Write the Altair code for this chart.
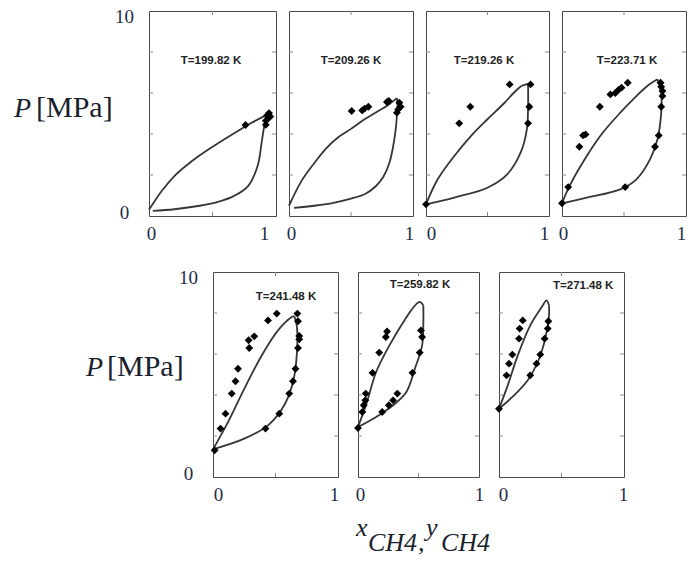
import altair as alt
import pandas as pd

# ---------------------------------------------------------------------------
# P-x-y phase envelopes of CH4 binary at seven temperatures
# bubble branch (x_CH4) / dew branch (y_CH4) of the model, P in MPa,
# plus experimental points.
# ---------------------------------------------------------------------------
T_LABELS = ["T=199.82 K", "T=209.26 K", "T=219.26 K", "T=223.71 K",
            "T=241.48 K", "T=259.82 K", "T=271.48 K"]

X_TICKS = [0, 1]
P_TICKS = [0, 10]
P_MINOR = [2, 4, 6, 8]
X_MINOR = [0.5]

# T = 199.82 K
BUB1_X = [0.0, 0.1, 0.2, 0.3, 0.4, 0.5, 0.6, 0.7, 0.8, 0.9, 0.95]
BUB1_P = [0.30, 1.22, 1.95, 2.49, 2.96, 3.38, 3.77, 4.15, 4.52, 4.85, 5.00]
DEW1_X = [0.03, 0.2, 0.4, 0.55, 0.67, 0.78, 0.855, 0.887, 0.908, 0.93, 0.95]
DEW1_P = [0.25, 0.33, 0.50, 0.70, 0.98, 1.46, 2.44, 3.58, 4.39, 4.85, 5.00]
EXP1_X = [0.76, 0.92, 0.92, 0.93, 0.945, 0.955, 0.94]
EXP1_P = [4.44, 4.45, 4.65, 4.90, 5.02, 4.85, 4.78]

# T = 209.26 K
BUB2_X = [0.0, 0.1, 0.2, 0.3, 0.4, 0.5, 0.6, 0.7, 0.8, 0.87]
BUB2_P = [0.50, 1.70, 2.55, 3.30, 3.85, 4.25, 4.68, 5.05, 5.42, 5.75]
DEW2_X = [0.04, 0.2, 0.34, 0.5, 0.61, 0.7, 0.76, 0.81, 0.84, 0.86, 0.87, 0.875, 0.87]
DEW2_P = [0.40, 0.50, 0.62, 0.85, 1.06, 1.45, 1.90, 2.60, 3.40, 4.20, 4.90, 5.40, 5.75]
EXP2_X = [0.505, 0.59, 0.61, 0.64, 0.79, 0.805, 0.89, 0.88, 0.87, 0.90]
EXP2_P = [5.12, 5.15, 5.24, 5.33, 5.56, 5.61, 5.53, 5.20, 5.04, 5.33]

# T = 219.26 K
BUB3_X = [0.0, 0.095, 0.23, 0.365, 0.5, 0.635, 0.72, 0.78, 0.83]
BUB3_P = [0.57, 1.79, 2.93, 3.90, 4.72, 5.50, 6.05, 6.35, 6.45]
DEW3_X = [0.0, 0.23, 0.5, 0.66, 0.77, 0.82, 0.83, 0.83]
DEW3_P = [0.57, 0.90, 1.38, 2.03, 3.10, 4.23, 5.37, 6.45]
EXP3_X = [0.0, 0.27, 0.36, 0.68, 0.85, 0.84, 0.83]
EXP3_P = [0.57, 4.52, 5.33, 6.42, 6.42, 5.33, 4.52]

# T = 223.71 K
BUB4_X = [0.0, 0.06, 0.2, 0.33, 0.47, 0.6, 0.7, 0.77]
BUB4_P = [0.62, 1.46, 2.93, 4.07, 5.04, 5.85, 6.40, 6.67]
DEW4_X = [0.0, 0.2, 0.47, 0.6, 0.71, 0.77, 0.80, 0.80, 0.77]
DEW4_P = [0.62, 0.90, 1.30, 1.79, 2.76, 3.74, 5.04, 6.00, 6.67]
EXP4_X = [0.0, 0.05, 0.14, 0.17, 0.19, 0.305, 0.39, 0.43, 0.455, 0.48, 0.53,
          0.51, 0.75, 0.78, 0.80, 0.81, 0.81, 0.80, 0.795]
EXP4_P = [0.62, 1.41, 3.38, 3.93, 3.98, 5.33, 5.93, 6.00, 6.15, 6.26, 6.50,
          1.41, 3.38, 3.93, 5.33, 5.85, 6.10, 6.30, 6.50]

# T = 241.48 K
BUB5_X = [0.0, 0.12, 0.25, 0.39, 0.52, 0.63, 0.65]
BUB5_P = [1.35, 2.68, 4.30, 5.93, 7.15, 7.80, 7.85]
DEW5_X = [0.0, 0.25, 0.44, 0.57, 0.64, 0.67, 0.67, 0.65]
DEW5_P = [1.35, 1.87, 2.52, 3.50, 4.63, 5.93, 7.40, 7.85]
EXP5_X = [0.013, 0.06, 0.10, 0.15, 0.18, 0.20, 0.29, 0.285, 0.33, 0.44, 0.51,
          0.675, 0.68, 0.69, 0.69, 0.68, 0.66, 0.64, 0.61, 0.53, 0.42]
EXP5_P = [1.30, 2.36, 3.09, 4.07, 4.67, 5.28, 6.29, 6.67, 6.86, 7.64, 7.97,
          7.97, 7.60, 6.88, 6.72, 6.29, 5.28, 4.67, 4.07, 3.09, 2.36]

# T = 259.82 K
BUB6_X = [0.0, 0.07, 0.15, 0.26, 0.375, 0.46, 0.51, 0.54]
BUB6_P = [2.44, 3.58, 5.12, 6.42, 7.56, 8.29, 8.54, 8.37]
DEW6_X = [0.0, 0.15, 0.29, 0.40, 0.47, 0.53, 0.54, 0.54]
DEW6_P = [2.44, 2.93, 3.50, 4.15, 5.28, 6.42, 7.56, 8.37]
EXP6_X = [0.0, 0.036, 0.047, 0.06, 0.064, 0.12, 0.175, 0.23, 0.24,
          0.20, 0.255, 0.29, 0.325, 0.45, 0.51, 0.53, 0.52]
EXP6_P = [2.39, 3.17, 3.50, 3.74, 4.07, 5.08, 6.07, 6.83, 7.10,
          3.17, 3.50, 3.74, 4.07, 5.08, 6.07, 6.83, 7.15]

# T = 271.48 K
BUB7_X = [0.0, 0.07, 0.15, 0.25, 0.35, 0.38, 0.40]
BUB7_P = [3.33, 4.47, 5.93, 7.40, 8.37, 8.62, 8.37]
DEW7_X = [0.0, 0.12, 0.23, 0.31, 0.37, 0.40, 0.40]
DEW7_P = [3.33, 3.98, 4.72, 5.61, 6.75, 7.89, 8.37]
EXP7_X = [0.0, 0.06, 0.08, 0.107, 0.16, 0.165, 0.19,
          0.25, 0.30, 0.33, 0.365, 0.39, 0.395]
EXP7_P = [3.33, 4.96, 5.53, 5.97, 6.75, 7.24, 7.64,
          4.96, 5.53, 5.97, 6.75, 7.24, 7.60]

PANELS = [
    (BUB1_X, BUB1_P, DEW1_X, DEW1_P, EXP1_X, EXP1_P),
    (BUB2_X, BUB2_P, DEW2_X, DEW2_P, EXP2_X, EXP2_P),
    (BUB3_X, BUB3_P, DEW3_X, DEW3_P, EXP3_X, EXP3_P),
    (BUB4_X, BUB4_P, DEW4_X, DEW4_P, EXP4_X, EXP4_P),
    (BUB5_X, BUB5_P, DEW5_X, DEW5_P, EXP5_X, EXP5_P),
    (BUB6_X, BUB6_P, DEW6_X, DEW6_P, EXP6_X, EXP6_P),
    (BUB7_X, BUB7_P, DEW7_X, DEW7_P, EXP7_X, EXP7_P),
]

# ---------------------------------------------------------------------------
# styling / layout
# ---------------------------------------------------------------------------
SERIF = "Liberation Serif"
SANS = "Liberation Sans"
NUM_COLOR = "#1f2c46"
LINE_COLOR = "#363636"
FRAME_COLOR = "#4a4a4a"
PANEL_H = 205

# per panel: width, first-in-row, x-label offsets (for 0, 1),
# temperature tag position (px) and alignment
LAYOUT = [
    dict(w=127, first=True, off=(2, -12), tx=62, ty=50, ta="center"),
    dict(w=124, first=False, off=(2, -4), tx=62, ty=50, ta="center"),
    dict(w=123, first=False, off=(5, -5), tx=58, ty=50, ta="center"),
    dict(w=124, first=False, off=(1, -5), tx=65, ty=50, ta="center"),
    dict(w=125, first=True, off=(5, -4), tx=73, ty=25, ta="center"),
    dict(w=121, first=False, off=(2, 0), tx=62, ty=13, ta="center"),
    dict(w=125, first=False, off=(4, -1), tx=54, ty=14, ta="left"),
]


def panel(i):
    bx, bp, dx, dp, ex, ep = PANELS[i]
    lay = LAYOUT[i]
    w = lay["w"]
    o0, o1 = lay["off"]

    curves = pd.DataFrame({
        "x": bx + dx,
        "P": bp + dp,
        "branch": ["bubble"] * len(bx) + ["dew"] * len(dx),
        "k": list(range(len(bx))) + list(range(len(dx))),
    })
    points = pd.DataFrame({"x": ex, "P": ep})
    ptick = pd.DataFrame({"P": P_MINOR})
    xtick = pd.DataFrame({"x": X_MINOR})
    one = pd.DataFrame({"n": [0]})

    xs = alt.Scale(domain=[0, 1], nice=False, zero=False)
    ys = alt.Scale(domain=[0, 10], nice=False, zero=False)

    x_axis = alt.Axis(
        values=X_TICKS, format="d", ticks=False, domain=False, grid=False,
        title=None, labelFont=SERIF, labelFontSize=19, labelColor=NUM_COLOR,
        labelPadding=8, labelFlush=False,
        labelOffset={"expr": f"datum.value == 1 ? {o1} : {o0}"},
    )
    if lay["first"]:
        y_axis = alt.Axis(
            values=P_TICKS, format="d", ticks=False, domain=False, grid=False,
            title=None, labelFont=SERIF, labelFontSize=19, labelColor=NUM_COLOR,
            labelAlign="center", labelBaseline="middle", labelPadding=25,
            labelFlush=False,
            labelOffset={"expr": "datum.value == 10 ? 5 : -4"},
        )
    else:
        y_axis = None

    X = alt.X("x:Q", scale=xs, axis=x_axis)
    Y = alt.Y("P:Q", scale=ys, axis=y_axis)

    lines = alt.Chart(curves).mark_line(
        color=LINE_COLOR, strokeWidth=1.8, interpolate="catmull-rom"
    ).encode(x=X, y=Y, detail="branch:N", order="k:Q")

    dots = alt.Chart(points).mark_point(
        shape="diamond", filled=True, color="black", opacity=1, size=62
    ).encode(x=X, y=Y)

    tag = alt.Chart(one).mark_text(
        text=T_LABELS[i], font=SANS, fontWeight="bold", fontSize=11.5,
        color="#222222", align=lay["ta"], baseline="middle"
    ).encode(x=alt.value(lay["tx"]), y=alt.value(lay["ty"]))

    tick_kw = dict(color="#8a8a8a", strokeWidth=1)
    lt = alt.Chart(ptick).mark_rule(**tick_kw).encode(
        y=Y, x=alt.value(0), x2=alt.value(4))
    rt = alt.Chart(ptick).mark_rule(**tick_kw).encode(
        y=Y, x=alt.value(w - 4), x2=alt.value(w))
    tt = alt.Chart(xtick).mark_rule(**tick_kw).encode(
        x=X, y=alt.value(0), y2=alt.value(4))
    bt = alt.Chart(xtick).mark_rule(**tick_kw).encode(
        x=X, y=alt.value(PANEL_H - 4), y2=alt.value(PANEL_H))

    layers = [lines, dots, tag, lt, rt, tt, bt]

    if lay["first"]:
        # axis caption: italic P followed by the unit
        row_top = i == 0
        cap_y = 106 if row_top else 104
        p_x = -135 if row_top else -127
        u_x = -113 if row_top else -106
        layers.append(alt.Chart(one).mark_text(
            text="P", font=SERIF, fontStyle="italic", fontSize=28,
            color="#1a1f2e", align="left", baseline="alphabetic"
        ).encode(x=alt.value(p_x), y=alt.value(cap_y)))
        layers.append(alt.Chart(one).mark_text(
            text="[MPa]", font=SERIF, fontSize=30,
            color="#1a1f2e", align="left", baseline="alphabetic"
        ).encode(x=alt.value(u_x), y=alt.value(cap_y)))

    if i == 5:
        # x caption: x_CH4, y_CH4
        parts = [("x", -2, 264), ("CH4", 10, 279), (",", 60, 279),
                 ("y", 68, 264), ("CH4", 83, 279)]
        for txt, px, py in parts:
            layers.append(alt.Chart(one).mark_text(
                text=txt, font=SERIF, fontStyle="italic", fontSize=26,
                color="#1a1f2e", align="left", baseline="alphabetic"
            ).encode(x=alt.value(px), y=alt.value(py)))

    return alt.layer(*layers).properties(width=w, height=PANEL_H)


spacer = alt.Chart(pd.DataFrame({"n": [0]})).mark_point(opacity=0).properties(
    width=44, height=PANEL_H,
    view=alt.ViewBackground(stroke="transparent"),
)

top_row = alt.hconcat(*[panel(i) for i in range(4)], spacing=13, bounds="flush")
bottom_row = alt.hconcat(spacer, *[panel(i) for i in range(4, 7)],
                         spacing=20, bounds="flush")

# rows are stacked by their origins; the step covers one panel height plus the gap
chart = alt.vconcat(top_row, bottom_row, spacing=PANEL_H + 56,
                    bounds="flush").properties(
    padding={"left": 13, "top": 6, "right": 0, "bottom": 5},
    background="white",
).configure_view(stroke=FRAME_COLOR, strokeWidth=1)

chart.save("out.html", embed_options={"renderer": "svg", "actions": False})
